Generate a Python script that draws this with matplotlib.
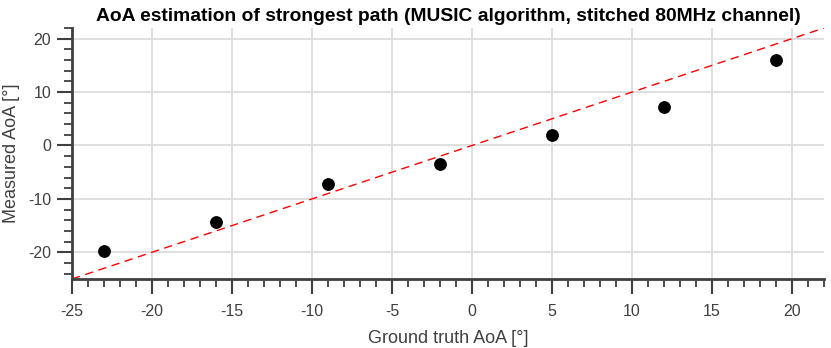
import matplotlib.pyplot as plt
import numpy as np
from matplotlib.ticker import MultipleLocator

plt.rcParams['font.family'] = ['Liberation Sans', 'DejaVu Sans']
plt.rcParams['axes.unicode_minus'] = False

# ground truth vs measured angle of arrival (degrees)
truth = [-23, -16, -9, -2, 5, 12, 19]
measured = [-19.8, -14.4, -7.2, -3.5, 1.9, 7.2, 16.1]
ideal = [-25, 22]

fig = plt.figure(figsize=(8.31, 3.48), dpi=100)
ax = fig.add_axes([72/831, 1 - 279/348, 752/831, 251/348])

gray = '#404040'
ax.plot(ideal, ideal, color='red', linestyle=(0, (6, 4)), linewidth=1)
ax.plot(truth, measured, 'o', color='black', markersize=8.2)

ax.set_xlim(-25, 22)
ax.set_ylim(-25, 22)
ax.xaxis.set_major_locator(MultipleLocator(5))
ax.xaxis.set_minor_locator(MultipleLocator(1))
ax.yaxis.set_major_locator(MultipleLocator(10))
ax.yaxis.set_minor_locator(MultipleLocator(2))
ax.grid(True, which='major', color='#dcdcdc', linewidth=1.3)
ax.set_axisbelow(True)

for s in ['top', 'right']:
    ax.spines[s].set_visible(False)
for s in ['left', 'bottom']:
    ax.spines[s].set_color(gray)
    ax.spines[s].set_linewidth(2)

ax.tick_params(which='major', direction='out', length=11, width=1.5, color=gray,
               labelcolor=gray, labelsize=11.5)
ax.tick_params(axis='x', which='major', pad=7)
ax.tick_params(axis='y', which='major', pad=4)
ax.tick_params(which='minor', direction='out', length=6, width=1.3, color=gray)

ax.set_xlabel('Ground truth AoA [°]', color=gray, fontsize=13, labelpad=8)
ax.set_ylabel('Measured AoA [°]', color=gray, fontsize=13, labelpad=6)
ax.set_title('AoA estimation of strongest path (MUSIC algorithm, stitched 80MHz channel)',
             fontsize=13.9, fontweight='bold', pad=5)

fig.savefig('out.png', dpi=100)
